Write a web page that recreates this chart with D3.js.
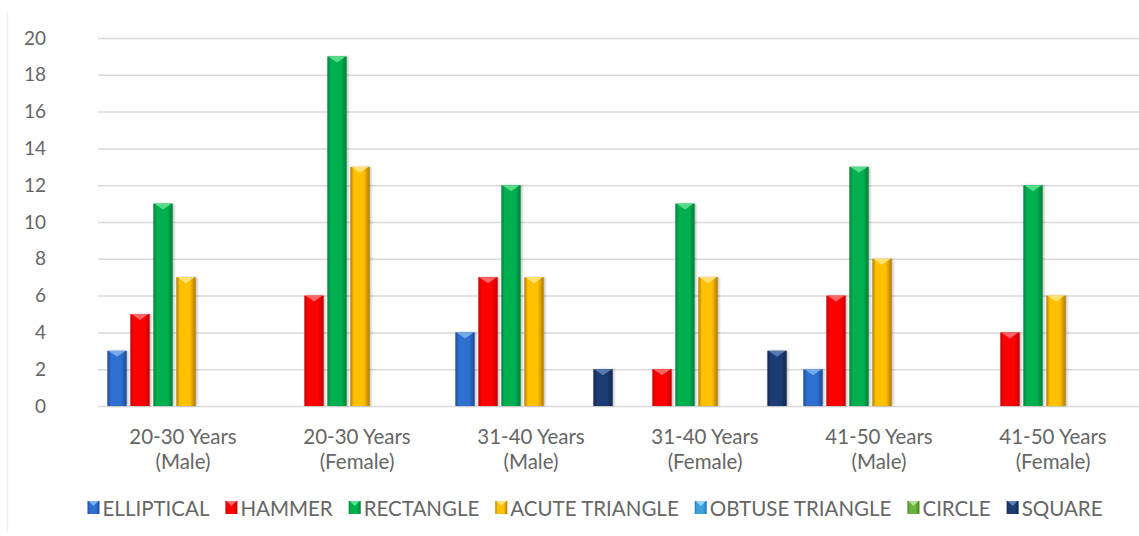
<!DOCTYPE html>
<html>
<head>
<meta charset="utf-8">
<script src="https://cdn.jsdelivr.net/npm/d3@7"></script>
<style>
   body { margin: 0; background: #fff; }
   svg { display: block; font-family: Lato, "Open Sans", sans-serif; }
</style>
</head>
<body>
<svg id="chart"></svg>
<script>
// categories and series
const categories = ["20-30 Years|(Male)", "20-30 Years|(Female)", "31-40 Years|(Male)",
                    "31-40 Years|(Female)", "41-50 Years|(Male)", "41-50 Years|(Female)"];
const seriesNames = ["ELLIPTICAL", "HAMMER", "RECTANGLE", "ACUTE TRIANGLE", "OBTUSE TRIANGLE", "CIRCLE", "SQUARE"];
const elliptical     = [3, 0, 4, 0, 2, 0];
const hammer         = [5, 6, 7, 2, 6, 4];
const rectangle      = [11, 19, 12, 11, 13, 12];
const acuteTriangle  = [7, 13, 7, 7, 8, 6];
const obtuseTriangle = [0, 0, 0, 0, 0, 0];
const circle         = [0, 0, 0, 0, 0, 0];
const square         = [0, 0, 2, 3, 0, 0];
const yTicks = [0, 2, 4, 6, 8, 10, 12, 14, 16, 18, 20];

const seriesValues = [elliptical, hammer, rectangle, acuteTriangle, obtuseTriangle, circle, square];
// [dark edge, base, light top]
const palette = [
   ["#1d4a94", "#2f6fd0", "#7fb0f0"],
   ["#c00000", "#ff0000", "#ff7070"],
   ["#00803a", "#00b050", "#5fe08f"],
   ["#b07a00", "#ffc000", "#ffe680"],
   ["#1f78b8", "#3fa3e0", "#9fd4f5"],
   ["#3f7f1f", "#6ab43a", "#b4e08f"],
   ["#0f2550", "#1f3b73", "#5f7fb8"]
];

window.onload = function() {
   drawChart();
}

function drawChart() {
   let width = 1139;
   let height = 536;
   let plot = {left: 99, right: 1143, top: 38, bottom: 406};
   let textColor = "#666666";

   let svg = d3.select("#chart")
      .attr("width", width)
      .attr("height", height);

   let defs = svg.append("defs");
   palette.forEach(function(c, i) {
      let g = defs.append("linearGradient")
         .attr("id", "grad" + i)
         .attr("x1", "0%").attr("x2", "100%").attr("y1", "0%").attr("y2", "0%");
      g.append("stop").attr("offset", "0%").attr("stop-color", c[0]);
      g.append("stop").attr("offset", "18%").attr("stop-color", c[1]);
      g.append("stop").attr("offset", "70%").attr("stop-color", c[1]);
      g.append("stop").attr("offset", "100%").attr("stop-color", c[0]);
   });
   let shadow = defs.append("filter").attr("id", "shadow")
      .attr("x", "-30%").attr("y", "-10%").attr("width", "160%").attr("height", "120%");
   shadow.append("feDropShadow")
      .attr("dx", 1.5).attr("dy", 0).attr("stdDeviation", 1.2)
      .attr("flood-color", "#000").attr("flood-opacity", 0.25);

   // faint frame line on the left
   svg.append("line")
      .attr("x1", 7.5).attr("x2", 7.5).attr("y1", 12).attr("y2", 532)
      .attr("stroke", "#e6edf5").attr("stroke-width", 1.5);

   let y = d3.scaleLinear()
      .domain([0, 20])
      .range([plot.bottom, plot.top]);

   let x0 = d3.scaleBand()
      .domain(d3.range(categories.length))
      .range([plot.left, plot.right]);

   let groupWidth = 161;
   let inset = (x0.bandwidth() - groupWidth) / 2;
   let x1 = d3.scaleBand()
      .domain(d3.range(seriesNames.length))
      .range([inset, inset + groupWidth])
      .paddingInner(0.16)
      .paddingOuter(0.08);

   // gridlines + y labels
   let leftAxis = d3.axisLeft(y)
      .tickValues(yTicks)
      .tickSize(-(plot.right - plot.left))
      .tickPadding(52)
      .tickFormat(d => d);
   let ax = svg.append("g")
      .attr("transform", "translate(" + (plot.left - 1) + ",0)")
      .call(leftAxis);
   ax.select(".domain").remove();
   ax.selectAll(".tick line")
      .attr("stroke", "#d9d9d9")
      .attr("stroke-width", 1.5);
   ax.selectAll(".tick text")
      .attr("fill", textColor)
      .attr("font-size", "19px")
      .attr("font-family", "Lato, sans-serif");

   // bars
   let groups = svg.append("g").selectAll("g")
      .data(categories)
      .join("g")
         .attr("transform", (d, i) => "translate(" + x0(i) + ",0)");

   let bars = groups.selectAll("g.bar")
      .data((d, ci) => seriesValues.map((vals, si) => ({si: si, v: vals[ci]})).filter(b => b.v > 0))
      .join("g")
         .attr("class", "bar");

   bars.append("rect")
      .attr("x", d => x1(d.si))
      .attr("y", d => y(d.v))
      .attr("width", x1.bandwidth())
      .attr("height", d => y(0) - y(d.v))
      .attr("fill", d => "url(#grad" + d.si + ")")
      .attr("filter", "url(#shadow)");

   // bevel highlight at the top of each bar
   bars.append("path")
      .attr("d", function(d) {
         let l = x1(d.si), w = x1.bandwidth(), t = y(d.v);
         return "M" + (l + 1) + "," + t + "L" + (l + w - 1) + "," + t +
                "L" + (l + w / 2) + "," + (t + 6) + "Z";
      })
      .attr("fill", d => palette[d.si][2])
      .attr("opacity", 0.9);

   // category labels
   let labels = svg.append("g").selectAll("text")
      .data(categories)
      .join("text")
         .attr("x", (d, i) => x0(i) + x0.bandwidth() / 2 - 3)
         .attr("y", 444)
         .attr("text-anchor", "middle")
         .attr("fill", textColor)
         .attr("font-size", "20.5px");
   labels.selectAll("tspan")
      .data(d => d.split("|"))
      .join("tspan")
         .attr("x", function() { return d3.select(this.parentNode).attr("x"); })
         .attr("dy", (d, i) => i === 0 ? 0 : 25)
         .text(d => d);

   // legend
   let legend = svg.append("g");
   let items = legend.selectAll("g")
      .data(seriesNames)
      .join("g");
   items.append("text")
      .attr("x", 15)
      .attr("y", 515.5)
      .attr("fill", textColor)
      .attr("font-size", "20.5px")
      .text(d => d);
   let offset = 0;
   items.each(function(d) {
      let w = this.querySelector("text").getComputedTextLength();
      d3.select(this).attr("transform", "translate(" + offset + ",0)");
      offset += 15 + w + 16;
   });
   let total = offset - 16;
   legend.attr("transform", "translate(" + (595 - total / 2) + ",0)");
   items.append("rect")
      .attr("x", 0).attr("y", 501)
      .attr("width", 12).attr("height", 13)
      .attr("fill", (d, i) => "url(#grad" + i + ")");
   items.append("path")
      .attr("d", "M1,501L11,501L6,506Z")
      .attr("fill", (d, i) => palette[i][2]);
}
</script>
</body>
</html>
